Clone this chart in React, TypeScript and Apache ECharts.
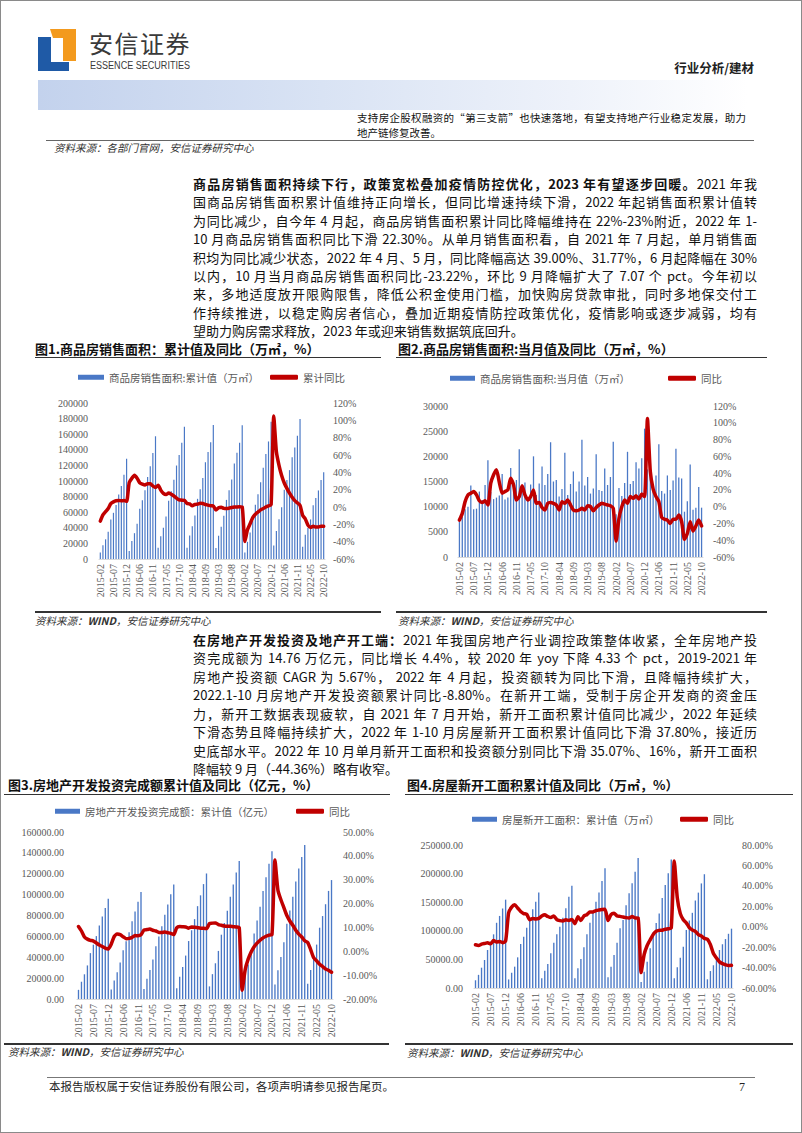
import React, { useEffect, useRef } from "react";
import * as echarts from "echarts";

// ---------------- DATA ----------------
const months = [
  "2015-02","2015-03","2015-04","2015-05","2015-06","2015-07","2015-08","2015-09","2015-10","2015-11","2015-12",
  "2016-02","2016-03","2016-04","2016-05","2016-06","2016-07","2016-08","2016-09","2016-10","2016-11","2016-12",
  "2017-02","2017-03","2017-04","2017-05","2017-06","2017-07","2017-08","2017-09","2017-10","2017-11","2017-12",
  "2018-02","2018-03","2018-04","2018-05","2018-06","2018-07","2018-08","2018-09","2018-10","2018-11","2018-12",
  "2019-02","2019-03","2019-04","2019-05","2019-06","2019-07","2019-08","2019-09","2019-10","2019-11","2019-12",
  "2020-02","2020-03","2020-04","2020-05","2020-06","2020-07","2020-08","2020-09","2020-10","2020-11","2020-12",
  "2021-02","2021-03","2021-04","2021-05","2021-06","2021-07","2021-08","2021-09","2021-10","2021-11","2021-12",
  "2022-02","2022-03","2022-04","2022-05","2022-06","2022-07","2022-08","2022-09","2022-10",
];

// Fig.1 商品房销售面积 累计值 (万㎡) & 累计同比 (%)
const salesCum = [
  8362, 17570, 25240, 35073, 50560, 59237, 69183, 82760, 93618, 108094, 128495,
  10315, 22918, 33115, 45278, 64302, 75178, 88068, 105185, 118964, 135829, 157349,
  14280, 29035, 40199, 54644, 74662, 86931, 101509, 119837, 133395, 148934, 169408,
  14469, 30078, 42118, 55648, 77143, 89450, 103987, 124061, 137046, 149637, 171654,
  14102, 29829, 41462, 55518, 75786, 88213, 101849, 122360, 136156, 148905, 171558,
  8475, 21978, 33970, 48703, 69404, 83081, 98486, 117073, 134729, 150694, 176086,
  17363, 36007, 51096, 66311, 88635, 101297, 113949, 130332, 143041, 158168, 179433,
  15703, 31046, 39768, 50738, 68923, 78178, 87890, 101422, 111179,
];
const salesCumYoy = [
  -16.3, -9.2, -5.4, -1.7, 3.9, 5.9, 7.2, 7.5, 7.2, 7.4, 6.5,
  28.2, 33.1, 36.5, 33.2, 27.9, 26.4, 25.5, 26.9, 26.8, 24.3, 22.5,
  25.1, 19.5, 15.7, 14.3, 16.1, 14.7, 12.7, 10.3, 8.2, 7.9, 7.7,
  4.1, 3.6, 1.3, 2.9, 3.3, 4.2, 4.0, 2.9, 2.2, 1.4, 1.3,
  -3.6, -0.9, -0.3, -1.6, -1.8, -1.3, -0.6, -0.1, 0.1, 0.2, -0.1,
  -39.9, -26.3, -19.3, -12.3, -8.4, -5.8, -3.3, -1.8, 0.0, 1.3, 2.6,
  104.9, 63.8, 48.1, 36.3, 27.7, 21.5, 15.9, 11.3, 7.3, 4.8, 1.9,
  -9.6, -13.8, -20.9, -23.6, -22.2, -23.1, -23.0, -22.2, -22.3,
];

// Fig.2 商品房销售面积 当月值 (万㎡) & 同比 (%)
const salesMonth = [
  7000, 8000, 9500, 10000, 14200, 9500, 9600, 13000, 11300, 14300, 19200,
  12900, 11500, 11800, 12200, 16500, 11400, 11800, 17700, 13000, 15300, 21400,
  14300, 14800, 11200, 14400, 20000, 12300, 14600, 18000, 14300, 16500, 22800,
  15000, 15300, 12000, 13500, 20700, 12300, 14500, 17000, 13000, 15000, 23300,
  14200, 15900, 12600, 13600, 20400, 13300, 13100, 17600, 14300, 15900, 22900,
  8500, 13700, 12100, 14700, 20900, 14500, 15100, 18800, 17600, 19600, 25500,
  17400, 17100, 13300, 16200, 22400, 13100, 12600, 16200, 13300, 15200, 21500,
  15800, 15600, 9000, 11100, 18400, 9400, 9800, 13900, 9800,
];
const salesMonthYoy = [
  -16, -8, 6, 14, 16, 18, 14, 7, 5, 7, 2,
  28, 38, 44, 29, 16, 18, 20, 34, 26, 8, 12,
  25, 14, 8, 12, 20, 4, 5, -1, -4, 4, 5,
  4, 2, -4, 6, 4, 8, 2, -4, -5, -4, -2,
  -4, 1, 0, -5, -1, 2, 4, 3, 2, 1, -2,
  -41, -14, 0, 8, 4, 12, 10, 13, 9, 15, 12,
  105, 42, 21, 12, 6, -13, -15, -16, -20, -15, -15,
  -10, -18, -39, -32, -18, -29, -23, -16, -23,
];

// Fig.3 房地产开发投资完成额 累计值 (亿元) & 同比 (%)
const investCum = [
  8786, 16545, 23669, 32167, 43955, 52052, 60263, 70315, 78995, 87125, 95979,
  9115, 17677, 25574, 34947, 46631, 55360, 64039, 74598, 83951, 93072, 102581,
  9478, 19292, 27732, 37912, 50610, 59761, 69694, 80644, 90544, 100387, 109799,
  10357, 21291, 30592, 41606, 55531, 65874, 76519, 88948, 99325, 110083, 120264,
  12090, 23803, 34217, 46075, 61609, 72843, 84589, 98008, 109603, 121265, 132194,
  10115, 21963, 33103, 45920, 62780, 75325, 88454, 103484, 116556, 129492, 141443,
  13986, 27576, 40240, 54318, 72179, 84895, 98060, 112559, 124934, 136139, 147602,
  14499, 27765, 39154, 52134, 68314, 79462, 90809, 103559, 113945,
];
const investYoy = [
  10.4, 8.5, 6.0, 5.1, 4.6, 4.3, 3.5, 2.6, 2.0, 1.3, 1.0,
  3.0, 6.2, 7.2, 7.0, 6.1, 5.3, 5.4, 5.8, 6.6, 6.5, 6.9,
  8.9, 9.1, 9.3, 8.8, 8.5, 7.9, 7.9, 8.1, 7.8, 7.5, 7.0,
  9.9, 10.4, 10.3, 10.2, 9.7, 10.2, 10.1, 9.9, 9.7, 9.7, 9.5,
  11.6, 11.8, 11.9, 11.2, 10.9, 10.6, 10.5, 10.5, 10.3, 10.2, 9.9,
  -16.3, -7.7, -3.3, -0.3, 1.9, 3.4, 4.6, 5.6, 6.3, 6.8, 7.0,
  38.3, 25.6, 21.6, 18.3, 15.0, 12.7, 10.9, 8.8, 7.2, 6.0, 4.4,
  3.7, 0.7, -2.7, -4.0, -5.4, -6.4, -7.4, -8.0, -8.8,
];

// Fig.4 房屋新开工面积 累计值 (万㎡) & 同比 (%)
const startsCum = [
  13500, 23000, 35500, 49000, 66400, 81000, 93800, 114000, 126000, 139000, 154454,
  15000, 26800, 37300, 53600, 77000, 89700, 105500, 121800, 137500, 151000, 166928,
  16900, 30300, 42000, 60600, 79300, 93800, 107200, 123000, 139300, 159700, 178654,
  17000, 34400, 50700, 71100, 93800, 114000, 131700, 151000, 167000, 187000, 209342,
  18600, 37300, 57700, 79300, 104300, 118900, 144500, 165500, 183000, 203400, 227154,
  10370, 28203, 46000, 69300, 97536, 113443, 130168, 157500, 180100, 200500, 224433,
  17001, 36163, 52953, 72019, 101240, 118005, 131429, 152944, 166736, 182820, 198895,
  15227, 29638, 39739, 51628, 66423, 76471, 85556, 94767, 103722,
];
const startsYoy = [
  -17.7, -18.4, -17.1, -16.4, -15.8, -16.8, -13.5, -15.0, -14.4, -15.6, -14.0,
  13.7, 19.2, 21.4, 18.3, 14.9, 12.9, 12.2, 6.9, 8.1, 7.6, 8.1,
  10.4, 11.6, 10.0, 8.9, 10.6, 7.0, 6.0, 5.6, 6.8, 6.2, 7.0,
  2.9, 9.7, 6.1, 10.6, 11.8, 14.4, 14.5, 15.7, 16.3, 16.8, 17.2,
  6.0, 11.9, 13.1, 10.5, 10.1, 9.5, 8.9, 8.6, 10.0, 8.6, 8.5,
  -44.9, -27.2, -18.4, -12.8, -7.6, -4.5, -3.6, -3.4, -2.5, -2.0, -1.2,
  64.3, 28.2, 12.8, 6.9, 3.8, -0.9, -3.2, -4.5, -7.7, -9.1, -11.4,
  -12.2, -17.5, -26.3, -30.6, -34.4, -36.1, -37.2, -38.0, -37.8,
];

// ---------------- STYLE ----------------
const BLUE = "#4A78C6";
const RED = "#C00000";
const AXIS_TXT = "#595959";
const SERIF = "'Liberation Serif', 'Times New Roman', serif";
const CJK = "'Noto Sans CJK SC', 'Noto Sans', sans-serif";

type Spec = {
  grid: { left: number; top: number; width: number; height: number };
  barName: string;
  lineName: string;
  bars: number[];
  line: number[];
  leftMax: number;
  leftInterval: number;
  leftDec: number;
  leftMargin: number;
  rMin: number;
  rMax: number;
  rInterval: number;
  rDec: number;
  rMargin: number;
  barLeg: [number, number, number];
  lineLeg: [number, number, number];
};

const specs: Spec[] = [
  {
    grid: { left: 99, top: 403, width: 226, height: 156 },
    barName: "商品房销售面积:累计值（万㎡）",
    lineName: "累计同比",
    bars: salesCum,
    line: salesCumYoy,
    leftMax: 200000, leftInterval: 20000, leftDec: 0, leftMargin: 11,
    rMin: -60, rMax: 120, rInterval: 20, rDec: 0, rMargin: 8,
    barLeg: [78, 379, 26],
    lineLeg: [270, 379, 28],
  },
  {
    grid: { left: 458, top: 406, width: 245, height: 151 },
    barName: "商品房销售面积:当月值（万㎡）",
    lineName: "同比",
    bars: salesMonth,
    line: salesMonthYoy,
    leftMax: 30000, leftInterval: 5000, leftDec: 0, leftMargin: 10,
    rMin: -60, rMax: 120, rInterval: 20, rDec: 0, rMargin: 10,
    barLeg: [450, 380, 25],
    lineLeg: [668, 380, 28],
  },
  {
    grid: { left: 77, top: 832, width: 256, height: 167 },
    barName: "房地产开发投资完成额：累计值（亿元）",
    lineName: "同比",
    bars: investCum,
    line: investYoy,
    leftMax: 160000, leftInterval: 20000, leftDec: 2, leftMargin: 13,
    rMin: -20, rMax: 50, rInterval: 10, rDec: 2, rMargin: 10,
    barLeg: [55, 813, 25],
    lineLeg: [296, 813, 28],
  },
  {
    grid: { left: 474, top: 845, width: 259, height: 143 },
    barName: "房屋新开工面积：累计值（万㎡）",
    lineName: "同比",
    bars: startsCum,
    line: startsYoy,
    leftMax: 250000, leftInterval: 50000, leftDec: 2, leftMargin: 11,
    rMin: -60, rMax: 80, rInterval: 20, rDec: 2, rMargin: 9,
    barLeg: [472, 821, 25],
    lineLeg: [680, 821, 28],
  },
];

function buildOption() {
  const option: any = {
    animation: false,
    textStyle: { fontFamily: SERIF },
    grid: [],
    xAxis: [],
    yAxis: [],
    series: [],
    legend: [],
  };
  const legText = { fontSize: 10.5, color: AXIS_TXT, fontFamily: CJK };
  specs.forEach((s, i) => {
    option.grid.push({ ...s.grid, containLabel: false });
    option.xAxis.push({
      type: "category",
      gridIndex: i,
      data: months,
      boundaryGap: true,
      axisTick: { show: false },
      axisLine: { show: true, lineStyle: { color: "#d9d9d9", width: 1 } },
      axisLabel: { interval: 4, rotate: 90, fontSize: 10, fontFamily: SERIF, color: AXIS_TXT, margin: 5 },
    });
    option.yAxis.push({
      type: "value",
      gridIndex: i,
      position: "left",
      min: 0,
      max: s.leftMax,
      interval: s.leftInterval,
      splitLine: { show: false },
      axisLine: { show: false },
      axisTick: { show: false },
      axisLabel: {
        fontSize: 10,
        fontFamily: SERIF,
        color: AXIS_TXT,
        margin: s.leftMargin,
        formatter: (v: number) => v.toFixed(s.leftDec),
      },
    });
    option.yAxis.push({
      type: "value",
      gridIndex: i,
      position: "right",
      min: s.rMin,
      max: s.rMax,
      interval: s.rInterval,
      splitLine: { show: false },
      axisLine: { show: false },
      axisTick: { show: false },
      axisLabel: {
        fontSize: 10,
        fontFamily: SERIF,
        color: AXIS_TXT,
        margin: s.rMargin,
        formatter: (v: number) => v.toFixed(s.rDec) + "%",
      },
    });
    option.series.push({
      type: "bar",
      name: s.barName,
      xAxisIndex: i,
      yAxisIndex: 2 * i,
      data: s.bars,
      barWidth: "45%",
      itemStyle: { color: BLUE },
    });
    option.series.push({
      type: "line",
      name: s.lineName,
      xAxisIndex: i,
      yAxisIndex: 2 * i + 1,
      data: s.line,
      symbol: "none",
      showSymbol: false,
      smooth: 0.2,
      lineStyle: { color: RED, width: 3.5, cap: "round", join: "round" },
      itemStyle: { color: RED },
      z: 5,
    });
    option.legend.push({
      left: s.barLeg[0],
      top: s.barLeg[1] - 7,
      data: [{ name: s.barName, icon: "rect" }],
      itemWidth: s.barLeg[2],
      itemHeight: 5,
      itemGap: 0,
      padding: 0,
      selectedMode: false,
      textStyle: legText,
    });
    option.legend.push({
      left: s.lineLeg[0],
      top: s.lineLeg[1] - 7,
      data: [{ name: s.lineName, icon: "roundRect", itemStyle: { color: RED } }],
      itemWidth: s.lineLeg[2],
      itemHeight: 5,
      itemGap: 0,
      padding: 0,
      selectedMode: false,
      textStyle: legText,
    });
  });
  return option;
}

// ---------------- TEXT ----------------
const para1 = [
  "国商品房销售面积累计值维持正向增长，但同比增速持续下滑，2022 年起销售面积累计值转",
  "为同比减少，自今年 4 月起，商品房销售面积累计同比降幅维持在 22%-23%附近，2022 年 1-",
  "10 月商品房销售面积同比下滑 22.30%。从单月销售面积看，自 2021 年 7 月起，单月销售面",
  "积均为同比减少状态，2022 年 4 月、5 月，同比降幅高达 39.00%、31.77%，6 月起降幅在 30%",
  "以内，10 月当月商品房销售面积同比-23.22%，环比 9 月降幅扩大了 7.07 个 pct。今年初以",
  "来，多地适度放开限购限售，降低公积金使用门槛，加快购房贷款审批，同时多地保交付工",
  "作持续推进，以稳定购房者信心，叠加近期疫情防控政策优化，疫情影响或逐步减弱，均有",
  "望助力购房需求释放，2023 年或迎来销售数据筑底回升。",
];
const para2 = [
  "资完成额为 14.76 万亿元，同比增长 4.4%，较 2020 年 yoy 下降 4.33 个 pct，2019-2021 年",
  "房地产投资额 CAGR 为 5.67%， 2022 年 4 月起，投资额转为同比下滑，且降幅持续扩大，",
  "2022.1-10 月房地产开发投资额累计同比-8.80%。在新开工端，受制于房企开发商的资金压",
  "力，新开工数据表现疲软，自 2021 年 7 月开始，新开工面积累计值同比减少，2022 年延续",
  "下滑态势且降幅持续扩大，2022 年 1-10 月房屋新开工面积累计值同比下滑 37.80%，接近历",
  "史底部水平。2022 年 10 月单月新开工面积和投资额分别同比下滑 35.07%、16%，新开工面积",
  "降幅较 9 月（-44.36%）略有收窄。",
];

const Txt = (p: any) => (
  <div
    style={{
      position: "absolute",
      left: p.x,
      right: p.right,
      top: p.cy - p.size * 0.75,
      fontSize: p.size,
      lineHeight: `${p.size * 1.5}px`,
      whiteSpace: "nowrap",
      ...(p.style || {}),
    }}
  >
    {p.children}
  </div>
);

const JLine = (p: any) => (
  <div
    style={{
      position: "absolute",
      left: p.x,
      top: p.cy - 9,
      width: p.w,
      height: 18,
      fontSize: p.size,
      lineHeight: "18px",
      textAlign: "justify",
      textAlignLast: p.last ? "left" : "justify",
      color: "#111",
    }}
  >
    {p.children}
  </div>
);

const HLine = (p: any) => (
  <div
    style={{
      position: "absolute",
      left: p.x1,
      top: p.y - (p.t || 1) / 2,
      width: p.x2 - p.x1,
      height: p.t || 1,
      background: p.c || "#333",
    }}
  />
);

const srcStyle = { fontStyle: "italic", color: "#333" };

export default function App() {
  const ref = useRef<HTMLDivElement>(null);
  useEffect(() => {
    const chart = echarts.init(ref.current as HTMLDivElement, null, { renderer: "svg" });
    chart.setOption(buildOption());
    return () => chart.dispose();
  }, []);

  return (
    <div
      style={{
        position: "absolute",
        left: 0,
        top: 0,
        width: 802,
        height: 1133,
        background: "#fff",
        overflow: "hidden",
        fontFamily: CJK,
        color: "#111",
      }}
    >
      {/* header logo */}
      <svg width={802} height={80} style={{ position: "absolute", left: 0, top: 0 }}>
        <polygon points="38,37 51,37 51,62 69,62 69,71 38,71" fill="#1f5aa6" />
        <polygon points="50,29 76,29 76,61 63,61 63,38 53,38" fill="#f39a1e" />
        <text x={89} y={53} fontSize={24} letterSpacing={1.5} fill="#3a3a3a" fontFamily={CJK}>
          安信证券
        </text>
        <text
          x={90}
          y={68.5}
          fontSize={10}
          fill="#3a3a3a"
          fontFamily="'Liberation Sans', Roboto, sans-serif"
          textLength={100}
          lengthAdjust="spacingAndGlyphs"
        >
          ESSENCE SECURITIES
        </text>
      </svg>
      <Txt right={48} cy={68} size={12.5} style={{ fontWeight: 700, color: "#222" }}>
        行业分析/建材
      </Txt>
      <div
        style={{
          position: "absolute",
          left: 38,
          top: 80,
          width: 710,
          height: 30,
          background: "linear-gradient(to right, #c3d2ed 0%, #d9e3f4 40%, #eef2fa 75%, #ffffff 100%)",
        }}
      />
      <JLine x={357} cy={118} w={389} size={10.5}>
        支持房企股权融资的“第三支箭”也快速落地，有望支持地产行业稳定发展，助力
      </JLine>
      <JLine x={357} cy={133} w={389} size={10.5} last>
        地产链修复改善。
      </JLine>
      <HLine x1={46} x2={754} y={140} t={1} c="#666" />
      <Txt x={54} cy={147.5} size={10.5} style={srcStyle}>
        资料来源：各部门官网，安信证券研究中心
      </Txt>

      {/* paragraph 1 */}
      <JLine x={193} cy={184} w={564} size={13}>
        <b>商品房销售面积持续下行，政策宽松叠加疫情防控优化，2023 年有望逐步回暖。</b>2021 年我
      </JLine>
      {para1.map((t, i) => (
        <JLine key={"p1" + i} x={193} cy={184 + 18.4 * (i + 1)} w={564} size={13} last={i === para1.length - 1}>
          {t}
        </JLine>
      ))}

      {/* chart titles row 1 */}
      <Txt x={35} cy={349} size={13} style={{ fontWeight: 700 }}>
        图1.商品房销售面积：累计值及同比（万㎡，%）
      </Txt>
      <HLine x1={35} x2={381} y={357.5} t={1.5} c="#333" />
      <Txt x={398} cy={349} size={13} style={{ fontWeight: 700 }}>
        图2.商品房销售面积:当月值及同比（万㎡，%）
      </Txt>
      <HLine x1={396} x2={767} y={357.5} t={1.5} c="#333" />

      {/* sources row 1 */}
      <HLine x1={35} x2={381} y={612} t={1.5} c="#333" />
      <Txt x={35} cy={621} size={10.5} style={srcStyle}>
        资料来源：<b>WIND</b>，安信证券研究中心
      </Txt>
      <HLine x1={396} x2={767} y={612} t={1.5} c="#333" />
      <Txt x={398} cy={621} size={10.5} style={srcStyle}>
        资料来源：<b>WIND</b>，安信证券研究中心
      </Txt>

      {/* paragraph 2 */}
      <JLine x={193} cy={640} w={564} size={13}>
        <b>在房地产开发投资及地产开工端：</b>2021 年我国房地产行业调控政策整体收紧，全年房地产投
      </JLine>
      {para2.map((t, i) => (
        <JLine key={"p2" + i} x={193} cy={640 + 18.45 * (i + 1)} w={564} size={13} last={i === para2.length - 1}>
          {t}
        </JLine>
      ))}

      {/* chart titles row 2 */}
      <Txt x={8} cy={785} size={13} style={{ fontWeight: 700 }}>
        图3.房地产开发投资完成额累计值及同比（亿元，%）
      </Txt>
      <HLine x1={4} x2={390} y={794.5} t={1.5} c="#333" />
      <Txt x={407} cy={785} size={13} style={{ fontWeight: 700 }}>
        图4.房屋新开工面积累计值及同比（万㎡，%）
      </Txt>
      <HLine x1={405} x2={793} y={794.5} t={1.5} c="#333" />

      {/* sources row 2 */}
      <HLine x1={4} x2={389} y={1044} t={1.5} c="#333" />
      <Txt x={8} cy={1052} size={10.5} style={srcStyle}>
        资料来源：<b>WIND</b>，安信证券研究中心
      </Txt>
      <HLine x1={405} x2={793} y={1044} t={1.5} c="#333" />
      <Txt x={407} cy={1053} size={10.5} style={srcStyle}>
        资料来源：<b>WIND</b>，安信证券研究中心
      </Txt>

      {/* footer */}
      <HLine x1={47} x2={755} y={1077} t={1} c="#777" />
      <Txt x={49} cy={1087} size={11.5} style={{ color: "#222" }}>
        本报告版权属于安信证券股份有限公司，各项声明请参见报告尾页。
      </Txt>
      <Txt x={739} cy={1087} size={12} style={{ color: "#222", fontFamily: SERIF }}>
        7
      </Txt>

      {/* charts */}
      <div ref={ref} style={{ position: "absolute", left: 0, top: 0, width: 802, height: 1133 }} />

      {/* page border */}
      <div
        style={{
          position: "absolute",
          left: 0,
          top: 0,
          width: 802,
          height: 1133,
          boxSizing: "border-box",
          border: "1px solid #8a8a8a",
          pointerEvents: "none",
        }}
      />
    </div>
  );
}
